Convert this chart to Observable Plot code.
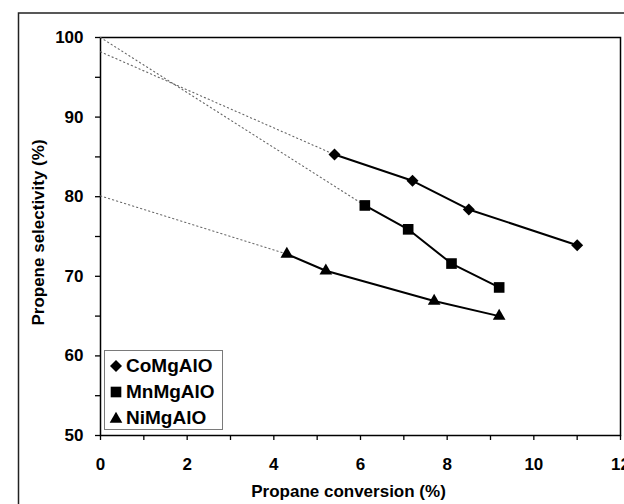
<!DOCTYPE html>
<html>
<head>
<meta charset="utf-8">
<script src="https://cdn.jsdelivr.net/npm/d3@7"></script>
<script src="https://cdn.jsdelivr.net/npm/@observablehq/plot@0.6"></script>
<style>
  html, body { margin: 0; padding: 0; background: white; }
  #wrap { position: relative; width: 624px; height: 504px; overflow: hidden; font-family: Arial, "Liberation Sans", sans-serif; }
  #legend { position: absolute; left: 104px; top: 350px; width: 117px; height: 78px; border: 1.5px solid #7a7a7a; background: white; }
  #legend .row { position: absolute; left: 0; height: 26px; display: flex; align-items: center; font-weight: bold; font-size: 19px; color: black; white-space: nowrap; }
  #legend svg { margin-left: 4px; margin-right: 3px; }
</style>
</head>
<body>
<div id="wrap"></div>
<script>
// ---- data ----
const seriesNames = ["CoMgAlO", "MnMgAlO", "NiMgAlO"];
const seriesSymbols = ["diamond2", "square", "triangle"];
const conversionCo = [5.4, 7.2, 8.5, 11.0];
const selectivityCo = [85.3, 82.0, 78.4, 73.9];
const conversionMn = [6.1, 7.1, 8.1, 9.2];
const selectivityMn = [78.9, 75.9, 71.6, 68.6];
const conversionNi = [4.3, 5.2, 7.7, 9.2];
const selectivityNi = [72.8, 70.7, 66.9, 65.0];
// dotted extrapolation to zero conversion (y-intercepts)
const interceptValues = [98.2, 100.0, 80.1];
const xTicks = [0, 2, 4, 6, 8, 10, 12];
const xMinorTicks = [1, 3, 5, 7, 9, 11];
const yTicks = [50, 60, 70, 80, 90, 100];
const yMinorTicks = [55, 65, 75, 85, 95];
const xLabel = "Propane conversion (%)";
const yLabel = "Propene selectivity (%)";

// ---- build tables ----
const conv = [conversionCo, conversionMn, conversionNi];
const sel = [selectivityCo, selectivityMn, selectivityNi];
const points = [];
seriesNames.forEach((s, i) => conv[i].forEach((x, j) => points.push({series: s, symbol: seriesSymbols[i], x, y: sel[i][j]})));
const dotted = [];
seriesNames.forEach((s, i) => {
  dotted.push({series: s, x: 0, y: interceptValues[i]});
  dotted.push({series: s, x: conv[i][0], y: sel[i][0]});
});

const font = "Arial, 'Liberation Sans', sans-serif";
const rBySymbol = {diamond2: 5.4, square: 6.0, triangle: 4.7};

const chart = Plot.plot({
  width: 624,
  height: 504,
  marginLeft: 100,
  marginRight: 4,
  marginTop: 37,
  marginBottom: 69,
  style: {fontFamily: font, fontSize: "17px", fontWeight: "bold", color: "black", background: "white"},
  x: {domain: [0, 12]},
  y: {domain: [50, 100]},
  marks: [
    // outer chart border
    Plot.frame({insetLeft: -82, insetTop: -24.5, insetRight: -30, insetBottom: -100, stroke: "#222", strokeWidth: 1.5}),
    Plot.frame({stroke: "black", strokeWidth: 1.5}),
    Plot.axisX({ticks: xTicks, tickSize: 5, tickPadding: 17, label: null, fontSize: 17, fontWeight: "bold", strokeWidth: 1.3}),
    Plot.axisX({ticks: xMinorTicks, tickSize: 5, tickFormat: () => "", label: null, strokeWidth: 1.3}),
    Plot.axisY({ticks: yTicks, tickSize: 5, tickFormat: () => "", label: null, strokeWidth: 1.3}),
    Plot.axisY({ticks: yMinorTicks, tickSize: 5, tickFormat: () => "", label: null, strokeWidth: 1.3}),
    Plot.text(yTicks, {y: d => d, frameAnchor: "left", textAnchor: "end", dx: -17, text: d => String(d), fontSize: 17, fontWeight: "bold", fill: "black"}),
    Plot.line(dotted, {x: "x", y: "y", z: "series", stroke: "#666", strokeWidth: 1.1, strokeDasharray: "1.2,3"}),
    Plot.line(points, {x: "x", y: "y", z: "series", stroke: "black", strokeWidth: 2}),
    ...seriesSymbols.map(sym => Plot.dot(points.filter(d => d.symbol === sym), {x: "x", y: "y", symbol: sym, r: rBySymbol[sym], fill: "black", stroke: "none"})),
    Plot.text([xLabel], {frameAnchor: "bottom", dy: 61, dx: -12, text: d => d, fontSize: 17, fontWeight: "bold", fill: "black"}),
    Plot.text([yLabel], {frameAnchor: "left", textAnchor: "middle", dx: -62, dy: -4, rotate: -90, text: d => d, fontSize: 17, fontWeight: "bold", fill: "black"})
  ]
});

const wrap = document.getElementById("wrap");
wrap.appendChild(chart);

// legend
const legend = document.createElement("div");
legend.id = "legend";
const legendTops = [2, 28, 54];
seriesNames.forEach((name, i) => {
  const row = document.createElement("div");
  row.className = "row";
  row.style.top = legendTops[i] + "px";
  const sym = {diamond2: d3.symbolDiamond2, square: d3.symbolSquare, triangle: d3.symbolTriangle}[seriesSymbols[i]];
  const r = rBySymbol[seriesSymbols[i]];
  const path = d3.symbol(sym, Math.PI * r * r)();
  row.innerHTML = `<svg width="14" height="14" viewBox="-7 -7 14 14"><path d="${path}" fill="black" transform="translate(0,${seriesSymbols[i] === "triangle" ? 1 : 0})"/></svg><span>${name}</span>`;
  legend.appendChild(row);
});
wrap.appendChild(legend);
</script>
</body>
</html>
